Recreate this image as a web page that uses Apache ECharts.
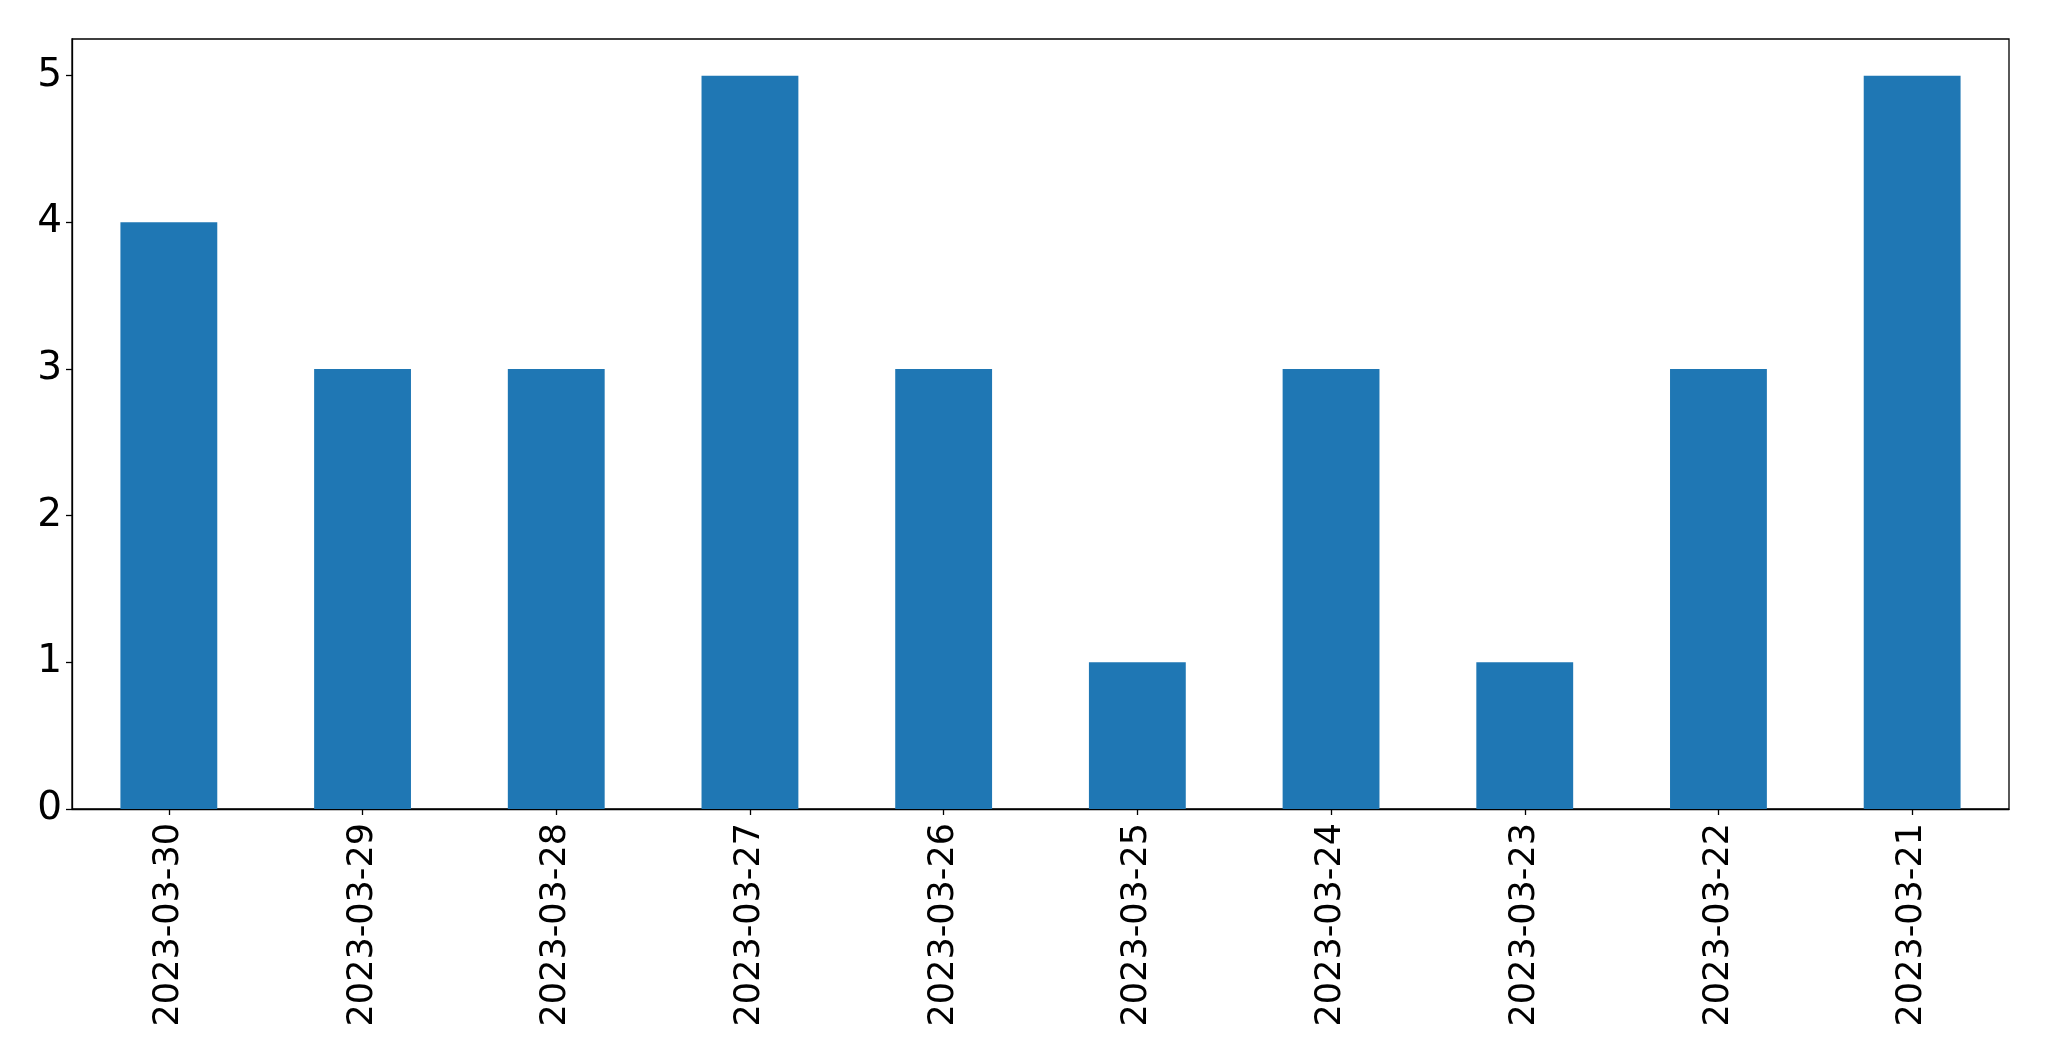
<!DOCTYPE html>
<html>
<head>
<meta charset="utf-8">
<script src="https://cdn.jsdelivr.net/npm/echarts@6/dist/echarts.min.js"></script>
<style>
html,body{margin:0;padding:0;background:#fff;}
#chart{width:2049px;height:1061px;}
</style>
</head>
<body>
<div id="chart"></div>
<script>
const categories = ['2023-03-30','2023-03-29','2023-03-28','2023-03-27','2023-03-26','2023-03-25','2023-03-24','2023-03-23','2023-03-22','2023-03-21'];
const values = [4,3,3,5,3,1,3,1,3,5];
const yTicks = [0,1,2,3,4,5];

const chart = echarts.init(document.getElementById('chart'), null, {renderer:'canvas'});
const font = 'DejaVu Sans';
chart.setOption({
  animation: false,
  backgroundColor: '#fff',
  grid: {left: 72, right: 40, top: 39, bottom: 252, show: true, borderColor: '#000', borderWidth: 1.3, backgroundColor: 'transparent'},
  xAxis: {
    type: 'category',
    data: categories,
    boundaryGap: true,
    axisLine: {show: true, lineStyle: {color: '#000', width: 1.3}},
    axisTick: {show: true, alignWithLabel: true, length: 6, lineStyle: {color: '#000', width: 1.3}},
    axisLabel: {rotate: 90, color: '#000', fontFamily: font, fontSize: 35, margin: 14, interval: 0},
    splitLine: {show: false}
  },
  yAxis: {
    type: 'value',
    min: 0,
    max: 5.25,
    interval: 1,
    axisLine: {show: true, lineStyle: {color: '#000', width: 1.3}},
    axisTick: {show: true, length: 6, lineStyle: {color: '#000', width: 1.3}},
    axisLabel: {color: '#000', fontFamily: font, fontSize: 39, margin: 10, showMaxLabel: false,
      formatter: v => yTicks.includes(v) ? String(v) : ''},
    splitLine: {show: false}
  },
  series: [{
    type: 'bar',
    data: values,
    barWidth: '50%',
    itemStyle: {color: '#1f77b4'}
  }]
});
</script>
</body>
</html>
